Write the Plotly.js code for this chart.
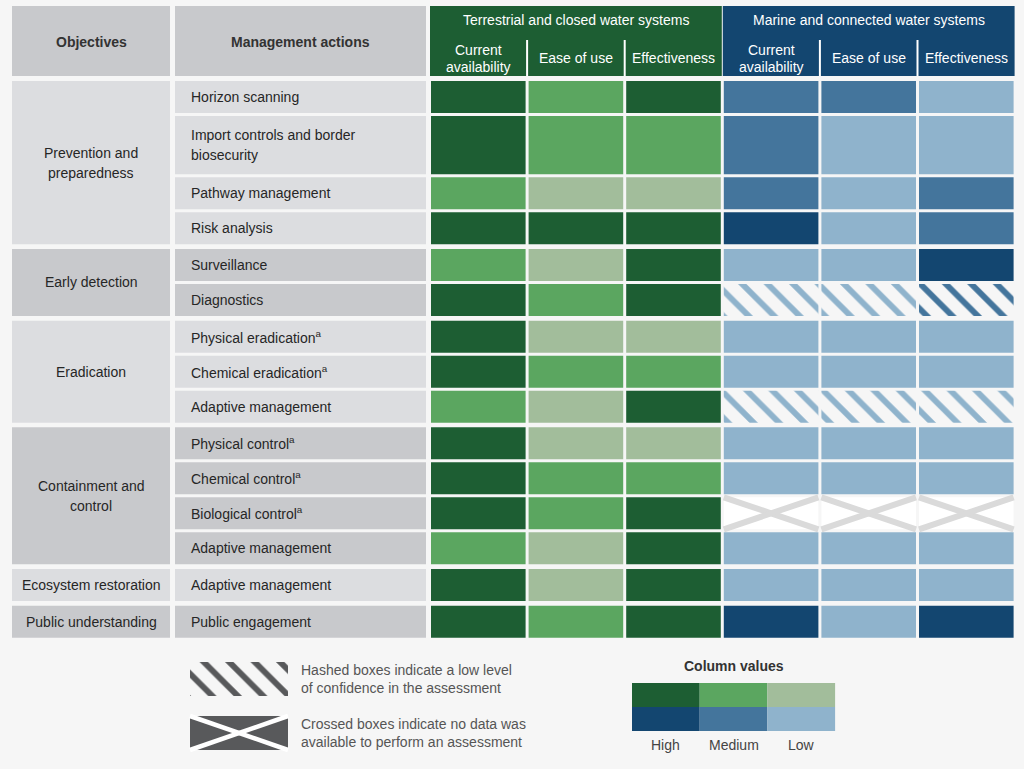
<!DOCTYPE html>
<html>
<head>
<meta charset="utf-8">
<script src="https://cdn.plot.ly/plotly-3.0.1.min.js"></script>
<style>
  html, body { margin: 0; padding: 0; background: #f6f6f6; }
  #chart { width: 1024px; height: 769px; }
</style>
</head>
<body>
<div id="chart"></div>
<script>
// Management actions for invasive species, rated per system type.

const OBJECTIVES = ['Prevention and<br>preparedness', 'Early detection', 'Eradication',
  'Containment and<br>control', 'Ecosystem restoration', 'Public understanding'];
const ACTIONS_PER_OBJECTIVE = [4, 2, 3, 4, 1, 1];
const ACTIONS = [
  'Horizon scanning',
  'Import controls and border<br>biosecurity',
  'Pathway management',
  'Risk analysis',
  'Surveillance',
  'Diagnostics',
  'Physical eradication<sup>a</sup>',
  'Chemical eradication<sup>a</sup>',
  'Adaptive management',
  'Physical control<sup>a</sup>',
  'Chemical control<sup>a</sup>',
  'Biological control<sup>a</sup>',
  'Adaptive management',
  'Adaptive management',
  'Public engagement',
];
const SYSTEMS = ['Terrestrial and closed water systems', 'Marine and connected water systems'];
const CRITERIA = ['Current<br>availability', 'Ease of use', 'Effectiveness'];
const LEVELS = ['High', 'Medium', 'Low'];

// one row per action: [availability, ease of use, effectiveness]
const TERRESTRIAL = [
  ['High', 'Medium', 'High'],
  ['High', 'Medium', 'Medium'],
  ['Medium', 'Low', 'Low'],
  ['High', 'High', 'High'],
  ['Medium', 'Low', 'High'],
  ['High', 'Medium', 'High'],
  ['High', 'Low', 'Low'],
  ['High', 'Medium', 'Medium'],
  ['Medium', 'Low', 'High'],
  ['High', 'Low', 'Low'],
  ['High', 'Medium', 'Medium'],
  ['High', 'Medium', 'High'],
  ['Medium', 'Low', 'High'],
  ['High', 'Low', 'High'],
  ['High', 'Medium', 'High'],
];
const MARINE = [
  ['Medium', 'Medium', 'Low'],
  ['Medium', 'Low', 'Low'],
  ['Medium', 'Low', 'Medium'],
  ['High', 'Low', 'Medium'],
  ['Low', 'Low', 'High'],
  ['Low', 'Low', 'Medium'],
  ['Low', 'Low', 'Low'],
  ['Low', 'Low', 'Low'],
  ['Low', 'Low', 'Low'],
  ['Low', 'Low', 'Low'],
  ['Low', 'Low', 'Low'],
  [null, null, null],
  ['Low', 'Low', 'Low'],
  ['Low', 'Low', 'Low'],
  ['High', 'Low', 'High'],
];
// marine cells assessed with low confidence: [action index, criterion index]
const LOW_CONFIDENCE = [[5, 0], [5, 1], [5, 2], [8, 0], [8, 1], [8, 2]];

const HATCH_NOTE = 'Hashed boxes indicate a low level<br>of confidence in the assessment';
const CROSS_NOTE = 'Crossed boxes indicate no data was<br>available to perform an assessment';

const GREENS = ['#1d5e33', '#5ba660', '#a2bd9b'];
const BLUES = ['#134670', '#44759c', '#8fb3cc'];
const GRAY_LIGHT = '#dcdde0';
const GRAY_DARK = '#c8c9cc';
const FONT = '"Liberation Sans", Arial, sans-serif';

// page geometry (pixels)
const OBJ_X = [12, 170];
const ACT_X = [175, 426];
const VAL_X0 = 431, VAL_PITCH = 97.6, VAL_W = 94.6;
const HEAD_Y = [6, 76], SUB_Y = 40;
const ROW_Y0 = 81, ROW_PITCH = 35, ROW_GAP = 3, GROUP_GAP = 1.7;

function colX(i) {
  const x0 = VAL_X0 + i * VAL_PITCH;
  return [x0, x0 + VAL_W];
}

// row extents, two-line labels get a taller row
const rowY = [];
const groupY = [];
let yCur = ROW_Y0;
ACTIONS_PER_OBJECTIVE.forEach((n, g) => {
  if (g > 0) yCur += GROUP_GAP;
  const first = rowY.length;
  for (let k = 0; k < n; k++) {
    const span = ACTIONS[rowY.length].includes('<br>') ? 1.75 : 1;
    rowY.push([yCur, yCur + span * ROW_PITCH - ROW_GAP]);
    yCur += span * ROW_PITCH;
  }
  groupY.push([rowY[first][0], rowY[rowY.length - 1][1]]);
});

const cells = { x: [], width: [], base: [], y: [], color: [], shape: [] };
function addCell(x0, x1, y0, y1, color, shape) {
  cells.x.push((x0 + x1) / 2);
  cells.width.push(x1 - x0);
  cells.base.push(y0);
  cells.y.push(y1 - y0);
  cells.color.push(color);
  cells.shape.push(shape || '');
}

const crossGray = { x: [], y: [] };
const crossWhite = { x: [], y: [] };
function addCross(target, x0, x1, y0, y1) {
  target.x.push(x0, x1, null, x0, x1, null);
  target.y.push(y0, y1, null, y1, y0, null);
}

// one annotation per text line, centred around y
const annotations = [];
function label(text, x, y, opts, lineH) {
  const lines = text.split('<br>');
  const step = lineH || 19;
  lines.forEach((line, i) => {
    annotations.push(Object.assign({
      text: line, x, y: y + (i - (lines.length - 1) / 2) * step,
      xref: 'x', yref: 'y', showarrow: false,
      xanchor: 'center', yanchor: 'middle', borderpad: 0,
      font: { family: FONT, size: 14, color: '#262626' },
    }, opts || {}));
  });
}
const boldFont = { family: FONT, size: 14, color: '#333', weight: 'bold' };

// header row
addCell(OBJ_X[0], OBJ_X[1], HEAD_Y[0], HEAD_Y[1], GRAY_DARK);
addCell(ACT_X[0], ACT_X[1], HEAD_Y[0], HEAD_Y[1], GRAY_DARK);
label('Objectives', (OBJ_X[0] + OBJ_X[1]) / 2, 42, { font: boldFont });
label('Management actions', (ACT_X[0] + ACT_X[1]) / 2, 42, { font: boldFont });

const sepLines = { x: [], y: [] };
SYSTEMS.forEach((name, s) => {
  const x0 = colX(s * 3)[0] - 1;
  const x1 = colX(s * 3 + 2)[1] + 1;
  addCell(x0, x1, HEAD_Y[0], HEAD_Y[1], s === 0 ? GREENS[0] : BLUES[0]);
  label(name, (x0 + x1) / 2, 20, { font: { family: FONT, size: 14, color: 'white' } });
  CRITERIA.forEach((c, k) => {
    const [cx0, cx1] = colX(s * 3 + k);
    label(c, (cx0 + cx1) / 2, 58, { font: { family: FONT, size: 14, color: 'white' } }, 17);
    if (k > 0) {
      const xs = cx0 - (VAL_PITCH - VAL_W) / 2;
      sepLines.x.push(xs, xs, null);
      sepLines.y.push(SUB_Y, HEAD_Y[1], null);
    }
  });
});

// objective and action cells
OBJECTIVES.forEach((name, g) => {
  const fill = g % 2 === 0 ? GRAY_LIGHT : GRAY_DARK;
  const [y0, y1] = groupY[g];
  addCell(OBJ_X[0], OBJ_X[1], y0, y1, fill);
  label(name, (OBJ_X[0] + OBJ_X[1]) / 2, (y0 + y1) / 2, null, 20);
});
let g = 0, seen = 0;
ACTIONS.forEach((name, r) => {
  if (seen === ACTIONS_PER_OBJECTIVE[g]) { g += 1; seen = 0; }
  seen += 1;
  const fill = g % 2 === 0 ? GRAY_LIGHT : GRAY_DARK;
  const [y0, y1] = rowY[r];
  addCell(ACT_X[0], ACT_X[1], y0, y1, fill);
  label(name, ACT_X[0] + 15, (y0 + y1) / 2, { xanchor: 'left', align: 'left' }, 20);
});

// rating cells
const isLowConf = (r, k) => LOW_CONFIDENCE.some(([a, b]) => a === r && b === k);
ACTIONS.forEach((_, r) => {
  const [y0, y1] = rowY[r];
  TERRESTRIAL[r].forEach((v, k) => {
    const [x0, x1] = colX(k);
    addCell(x0, x1, y0, y1, GREENS[LEVELS.indexOf(v)]);
  });
  MARINE[r].forEach((v, k) => {
    const [x0, x1] = colX(3 + k);
    if (v === null) {
      addCell(x0, x1, y0, y1, 'white');
      addCross(crossGray, x0, x1, y0, y1);
    } else {
      addCell(x0, x1, y0, y1, BLUES[LEVELS.indexOf(v)], isLowConf(r, k) ? '\\' : '');
    }
  });
});

// legend: hatch and cross notes
const NOTE_X = [190, 288];
const noteFont = { family: FONT, size: 14, color: '#555' };
addCell(NOTE_X[0], NOTE_X[1], 662, 696, '#58595b', '\\');
label(HATCH_NOTE, 300, 679, { xanchor: 'left', align: 'left', font: noteFont }, 17.5);
addCell(NOTE_X[0], NOTE_X[1], 716, 750, '#58595b');
addCross(crossWhite, NOTE_X[0], NOTE_X[1], 716, 750);
label(CROSS_NOTE, 300, 733, { xanchor: 'left', align: 'left', font: noteFont }, 17.5);

// legend: column values
const LEG_X0 = 632, LEG_W = 67.7;
label('Column values', LEG_X0 + 1.5 * LEG_W, 666, { font: boldFont });
LEVELS.forEach((lv, i) => {
  const x0 = LEG_X0 + i * LEG_W;
  addCell(x0, x0 + LEG_W, 683, 707, GREENS[i]);
  addCell(x0, x0 + LEG_W, 707, 731, BLUES[i]);
  label(lv, x0 + LEG_W / 2, 745, { font: { family: FONT, size: 14, color: '#444' } });
});

const traces = [
  {
    type: 'bar',
    x: cells.x, y: cells.y, base: cells.base, width: cells.width,
    marker: {
      color: cells.color,
      line: { width: 0 },
      pattern: { shape: cells.shape, fgcolor: 'white', size: 18, solidity: 0.33, fillmode: 'replace' },
    },
    hoverinfo: 'skip',
  },
  {
    type: 'scatter', mode: 'lines', x: crossGray.x, y: crossGray.y,
    line: { color: '#dadada', width: 6 }, hoverinfo: 'skip',
  },
  {
    type: 'scatter', mode: 'lines', x: crossWhite.x, y: crossWhite.y,
    line: { color: 'white', width: 4.5 }, hoverinfo: 'skip',
  },
  {
    type: 'scatter', mode: 'lines', x: sepLines.x, y: sepLines.y,
    line: { color: 'white', width: 2 }, hoverinfo: 'skip',
  },
];

const layout = {
  width: 1024,
  height: 769,
  margin: { l: 0, r: 0, t: 0, b: 0 },
  paper_bgcolor: '#f6f6f6',
  plot_bgcolor: '#f6f6f6',
  showlegend: false,
  barmode: 'overlay',
  xaxis: { range: [0, 1024], visible: false, fixedrange: true },
  yaxis: { range: [769, 0], visible: false, fixedrange: true },
  annotations,
};

Plotly.newPlot('chart', traces, layout, { displayModeBar: false, staticPlot: true });
</script>
</body>
</html>
